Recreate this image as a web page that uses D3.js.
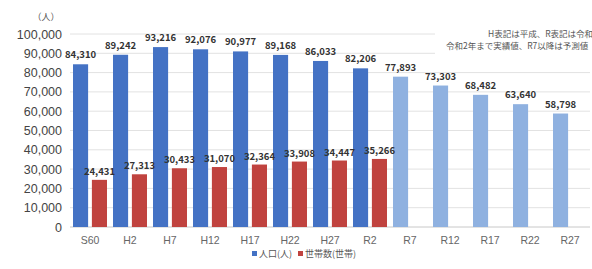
<!DOCTYPE html>
<html>
<head>
<meta charset="utf-8">
<script src="https://cdn.jsdelivr.net/npm/d3@7"></script>
<style>
  body { margin: 0; background: #fff; }
  svg { display: block; font-family: "Noto Sans CJK JP", "Noto Sans", sans-serif; }
</style>
</head>
<body>
<script>
// years (S = Showa, H = Heisei, R = Reiwa)
const categories = ['S60', 'H2', 'H7', 'H12', 'H17', 'H22', 'H27', 'R2', 'R7', 'R12', 'R17', 'R22', 'R27'];
const population = [84310, 89242, 93216, 92076, 90977, 89168, 86033, 82206, 77893, 73303, 68482, 63640, 58798];
const households = [24431, 27313, 30433, 31070, 32364, 33908, 34447, 35266];
const yTicks = [0, 10000, 20000, 30000, 40000, 50000, 60000, 70000, 80000, 90000, 100000];
const lastActual = 'R2';

const W = 592, H = 269;
const plot = {left: 70, right: 590, top: 34, bottom: 227};

const svg = d3.select('body').append('svg')
  .attr('width', W)
  .attr('height', H);

let x = d3.scaleBand().domain(categories).range([plot.left, plot.right]).paddingInner(0.15).paddingOuter(0.075);
let x1 = d3.scaleBand().domain(['pop', 'hh']).range([0, x.bandwidth()]).paddingInner(0.2);
let y = d3.scaleLinear().domain([0, 100000]).range([plot.bottom, plot.top]);

const fmt = d3.format(',');
const actualIdx = categories.indexOf(lastActual);

// gridlines
svg.append('g')
  .selectAll('line')
  .data(yTicks)
  .enter()
  .append('line')
  .attr('x1', plot.left)
  .attr('x2', plot.right)
  .attr('y1', d => y(d))
  .attr('y2', d => y(d))
  .attr('stroke', d => d === 0 ? '#c8c8c8' : '#e2e2e2')
  .attr('stroke-width', 1);

// y axis labels
svg.append('g')
  .call(d3.axisLeft(y).tickValues(yTicks).tickSize(0).tickPadding(0).tickFormat(fmt))
  .attr('transform', 'translate(62,0)')
  .call(g => g.select('.domain').remove())
  .selectAll('text')
  .style('font-size', '12.5px')
  .style('fill', '#444');

svg.append('text')
  .attr('x', 46)
  .attr('y', 20)
  .attr('text-anchor', 'middle')
  .style('font-size', '9px')
  .style('fill', '#555')
  .text('（人）');

// x axis labels
svg.append('g')
  .attr('transform', 'translate(0,' + plot.bottom + ')')
  .call(d3.axisBottom(x).tickSize(0).tickPadding(10))
  .call(g => g.select('.domain').remove())
  .selectAll('text')
  .style('font-size', '10.5px')
  .style('fill', '#666');

// population bars
svg.append('g')
  .selectAll('rect')
  .data(population)
  .enter()
  .append('rect')
  .attr('x', (d, i) => x(categories[i]) + x1('pop'))
  .attr('y', d => y(d))
  .attr('width', x1.bandwidth())
  .attr('height', d => plot.bottom - y(d))
  .attr('fill', (d, i) => i <= actualIdx ? '#4472c4' : '#8fb1e0');

// household bars
svg.append('g')
  .selectAll('rect')
  .data(households)
  .enter()
  .append('rect')
  .attr('x', (d, i) => x(categories[i]) + x1('hh'))
  .attr('y', d => y(d))
  .attr('width', x1.bandwidth())
  .attr('height', d => plot.bottom - y(d))
  .attr('fill', '#c0433f');

// value labels
svg.append('g')
  .selectAll('text')
  .data(population)
  .enter()
  .append('text')
  .attr('x', (d, i) => x(categories[i]) + x1('pop') + x1.bandwidth() / 2)
  .attr('y', d => y(d) - 6)
  .attr('text-anchor', 'middle')
  .style('font-size', '9.5px')
  .style('font-weight', 'bold')
  .style('fill', '#333')
  .text(d => fmt(d));

svg.append('g')
  .selectAll('text')
  .data(households)
  .enter()
  .append('text')
  .attr('x', (d, i) => x(categories[i]) + x1('hh') + x1.bandwidth() / 2)
  .attr('y', d => y(d) - 5)
  .attr('text-anchor', 'middle')
  .style('font-size', '9.5px')
  .style('font-weight', 'bold')
  .style('fill', '#333')
  .text(d => fmt(d));

// note box, top right
svg.append('rect')
  .attr('x', 435)
  .attr('y', 26)
  .attr('width', 160)
  .attr('height', 30)
  .attr('fill', '#fff');

svg.append('text')
  .attr('x', 488)
  .attr('y', 37)
  .style('font-size', '8.5px')
  .style('fill', '#555')
  .text('H表記は平成、R表記は令和');

svg.append('text')
  .attr('x', 446)
  .attr('y', 49)
  .style('font-size', '8.5px')
  .style('fill', '#555')
  .text('令和2年まで実績値、R7以降は予測値');

// legend
let legend = svg.append('g').attr('transform', 'translate(252,257)');
legend.append('rect').attr('x', 0).attr('y', -6).attr('width', 5).attr('height', 5).attr('fill', '#4472c4');
legend.append('text').attr('x', 7).attr('y', 0).style('font-size', '9px').style('fill', '#555').text('人口(人)');
legend.append('rect').attr('x', 46).attr('y', -6).attr('width', 5).attr('height', 5).attr('fill', '#c0433f');
legend.append('text').attr('x', 53).attr('y', 0).style('font-size', '9px').style('fill', '#555').text('世帯数(世帯)');
</script>
</body>
</html>
